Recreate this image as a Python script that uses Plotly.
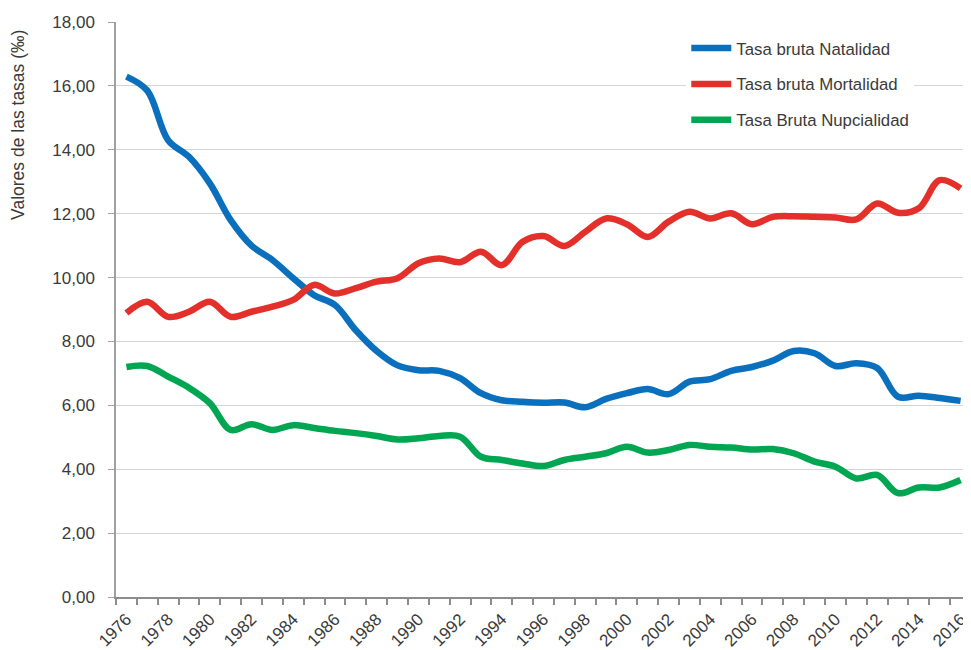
import plotly.graph_objects as go

years = list(range(1976, 2017))

natalidad = [16.29, 15.85, 14.30, 13.78, 12.95, 11.80, 11.00, 10.55, 9.98, 9.45,
             9.14, 8.35, 7.70, 7.25, 7.10, 7.08, 6.85, 6.38, 6.16, 6.11,
             6.08, 6.09, 5.94, 6.20, 6.38, 6.51, 6.35, 6.74, 6.82, 7.08,
             7.20, 7.40, 7.70, 7.63, 7.23, 7.32, 7.17, 6.27, 6.30, 6.23, 6.14]

mortalidad = [8.89, 9.24, 8.77, 8.93, 9.24, 8.77, 8.93, 9.09, 9.30, 9.77,
              9.50, 9.67, 9.87, 9.98, 10.45, 10.60, 10.48, 10.81, 10.39, 11.12,
              11.30, 10.99, 11.43, 11.85, 11.67, 11.27, 11.75, 12.06, 11.85, 12.01,
              11.67, 11.90, 11.92, 11.90, 11.88, 11.82, 12.32, 12.03, 12.17, 13.05, 12.79]

nupcialidad = [7.20, 7.23, 6.90, 6.55, 6.07, 5.23, 5.41, 5.23, 5.38, 5.29,
               5.20, 5.13, 5.04, 4.93, 4.97, 5.04, 5.02, 4.39, 4.29, 4.18,
               4.10, 4.29, 4.39, 4.50, 4.70, 4.52, 4.60, 4.76, 4.70, 4.68,
               4.62, 4.63, 4.50, 4.24, 4.08, 3.71, 3.82, 3.25, 3.43, 3.43, 3.66]

series_names = ["Tasa bruta Natalidad", "Tasa bruta Mortalidad", "Tasa Bruta Nupcialidad"]
series_colors = ["#0A70BE", "#E3302A", "#00A651"]

x_tickvals = list(range(1976, 2017, 2))
x_ticktext = [str(y) for y in x_tickvals]
y_tickvals = [0, 2, 4, 6, 8, 10, 12, 14, 16, 18]

FONT = "Liberation Sans, Arial, sans-serif"
TXT = "#3a3a3a"

fig = go.Figure()
for name, vals, col in zip(series_names, [natalidad, mortalidad, nupcialidad], series_colors):
    fig.add_trace(go.Scatter(
        x=years, y=vals, name=name, mode="lines",
        line=dict(color=col, width=6.5, shape="spline", smoothing=1.0),
        legendgroup=name,
    ))

# page body has an 8px margin: figure is shrunk by 8px so it ends at the window edge
fig.update_layout(
    width=963, height=642,
    margin=dict(l=108, r=0, t=14, b=53),
    paper_bgcolor="white", plot_bgcolor="white",
    separators=",.",
    font=dict(family=FONT, size=17, color=TXT),
    showlegend=True,
    legend=dict(
        x=0.667, y=0.985, xanchor="left", yanchor="top",
        bgcolor="white", borderwidth=0,
        font=dict(family=FONT, size=16.8, color=TXT),
        tracegroupgap=11,
        itemwidth=40,
    ),
    xaxis=dict(
        range=[1975.5, 2016.5],
        tickvals=x_tickvals, ticktext=x_ticktext,
        tickangle=-45, ticks="", showgrid=False,
        showline=True, linecolor="#8c8c8c", linewidth=1.5,
        tickfont=dict(family=FONT, size=17, color=TXT),
        minor=dict(tick0=1975.5, dtick=1, ticks="outside", ticklen=6,
                   tickcolor="#8c8c8c", tickwidth=1.5, showgrid=False),
        zeroline=False,
        automargin=False,
        ticklabelstandoff=4,
    ),
    yaxis=dict(
        range=[0, 18], tickvals=y_tickvals, tickformat=".2f",
        showgrid=True, gridcolor="#d4d4d4", gridwidth=1,
        showline=True, linecolor="#a0a0a0", linewidth=1.5,
        ticks="outside", ticklen=6, tickcolor="#a0a0a0",
        tickfont=dict(family=FONT, size=17, color=TXT),
        zeroline=False,
        automargin=False,
        ticklabelstandoff=10,
    ),
    annotations=[dict(
        text="Valores de las tasas (‰)", textangle=-90,
        xref="paper", yref="paper", x=-0.1146, y=0.821,
        xanchor="center", yanchor="middle", showarrow=False,
        font=dict(family=FONT, size=17.5, color=TXT),
    )],
)

fig.write_html("out.html")
